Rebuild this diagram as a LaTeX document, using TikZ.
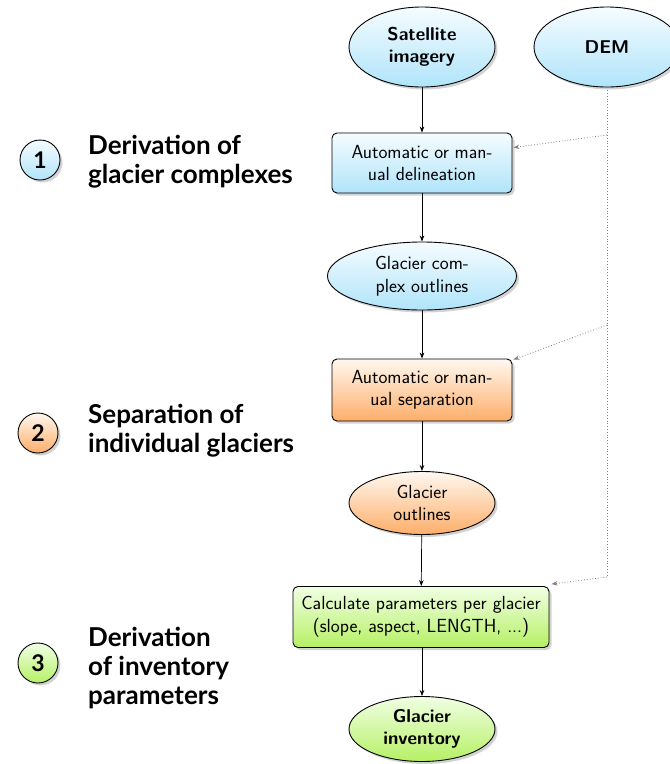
\documentclass[tikz,border=0pt]{standalone}
\usepackage{fontspec}
\newfontfamily\latofont{Lato}
\usetikzlibrary{shapes.geometric,shadows,arrows.meta,calc}
\definecolor{bluebot}{RGB}{176,228,250}
\definecolor{bluetop}{RGB}{245,252,255}
\definecolor{orangebot}{RGB}{253,174,105}
\definecolor{orangetop}{RGB}{255,248,240}
\definecolor{greenbot}{RGB}{182,240,100}
\definecolor{greentop}{RGB}{240,255,228}
\tikzset{
  base/.style={draw=black, line width=0.9pt, align=center, inner sep=0pt,
    font=\sffamily\fontsize{19}{22.5}\selectfont,
    drop shadow={shadow xshift=2.5pt, shadow yshift=-2.5pt, opacity=0.35}},
  blueshade/.style={top color=bluetop, bottom color=bluebot},
  orangeshade/.style={top color=orangetop, bottom color=orangebot},
  greenshade/.style={top color=greentop, bottom color=greenbot},
  ell/.style={base, ellipse},
  boldell/.style={ell, font=\sffamily\bfseries\fontsize{18.5}{22.5}\selectfont},
  procbox/.style={base, rectangle, rounded corners=5pt},
  numcirc/.style={draw=black, line width=0.9pt, circle, minimum size=40pt, inner sep=0pt,
    font=\latofont\bfseries\fontsize{23}{26}\selectfont,
    drop shadow={shadow xshift=2.5pt, shadow yshift=-2.5pt, opacity=0.35}},
  steplabel/.style={anchor=west, align=left, inner sep=0pt,
    font=\latofont\bfseries\fontsize{26}{29}\selectfont},
  flow/.style={-{Stealth[length=6pt,width=4.5pt]}, line width=0.7pt, black},
  demline/.style={dotted, line width=0.8pt, gray},
  demarrow/.style={demline, -{Stealth[length=6pt,width=4.5pt]}},
}
\begin{document}
\begin{tikzpicture}[x=1pt,y=-1pt]
\useasboundingbox (0,0) rectangle (670,764);
\begin{scope}
\clip (0,0) rectangle (670,764);
% top nodes
\node[boldell, blueshade, minimum width=146pt, minimum height=80pt] (sat) at (422,47) {Satellite\\imagery};
\node[boldell, blueshade, minimum width=146pt, minimum height=80pt] (dem) at (607,47) {DEM};
% column
\node[procbox, blueshade, minimum width=180pt, minimum height=60pt] (box1) at (422,163) {\makebox[141pt]{Automatic\hfill or\hfill man-}\\ual delineation};
\node[ell, blueshade, minimum width=189pt, minimum height=68pt] (ell1) at (422,276) {Glacier com-\\plex outlines};
\node[procbox, orangeshade, minimum width=180pt, minimum height=62pt] (box2) at (422,390) {\makebox[141pt]{Automatic\hfill or\hfill man-}\\ual separation};
\node[ell, orangeshade, minimum width=146pt, minimum height=63pt] (ell2) at (422,503) {Glacier\\outlines};
\node[procbox, greenshade, minimum width=256pt, minimum height=61pt] (box3) at (421,617) {Calculate parameters per glacier\\(slope, aspect, LENGTH, ...)};
\node[boldell, greenshade, minimum width=146pt, minimum height=65pt] (inv) at (422,729) {Glacier\\inventory};
\end{scope}
% flow arrows
\draw[flow] (sat) -- (box1);
\draw[flow] (box1) -- (ell1);
\draw[flow] (ell1) -- (box2);
\draw[flow] (box2) -- (ell2);
\draw[flow] (ell2) -- (box3);
\draw[flow] (box3.south -| inv.north) -- (inv);
% DEM dotted
\coordinate (d1) at (607,135);
\coordinate (d2) at (607,325);
\coordinate (d3) at (607,577);
\draw[demline] (dem.south) -- (d3);
\draw[demarrow] (d1) -- ($(box1.north east)+(1,15)$);
\draw[demarrow] (d2) -- ($(box2.north east)+(1,1)$);
\draw[demarrow] (d3) -- ($(box3.north east)+(2,-2)$);
% step circles
\node[numcirc, blueshade] (c1) at (40,160) {1};
\node[numcirc, orangeshade] (c2) at (38,433) {2};
\node[numcirc, greenshade] (c3) at (38,663) {3};
% step labels
\node[steplabel] (l1) at (88,162) {Derivation of\\glacier complexes};
\node[steplabel] (l2) at (88,431) {Separation of\\individual glaciers};
\node[steplabel] (l3) at (88,668) {Derivation\\of inventory\\parameters};
\end{tikzpicture}
\end{document}
